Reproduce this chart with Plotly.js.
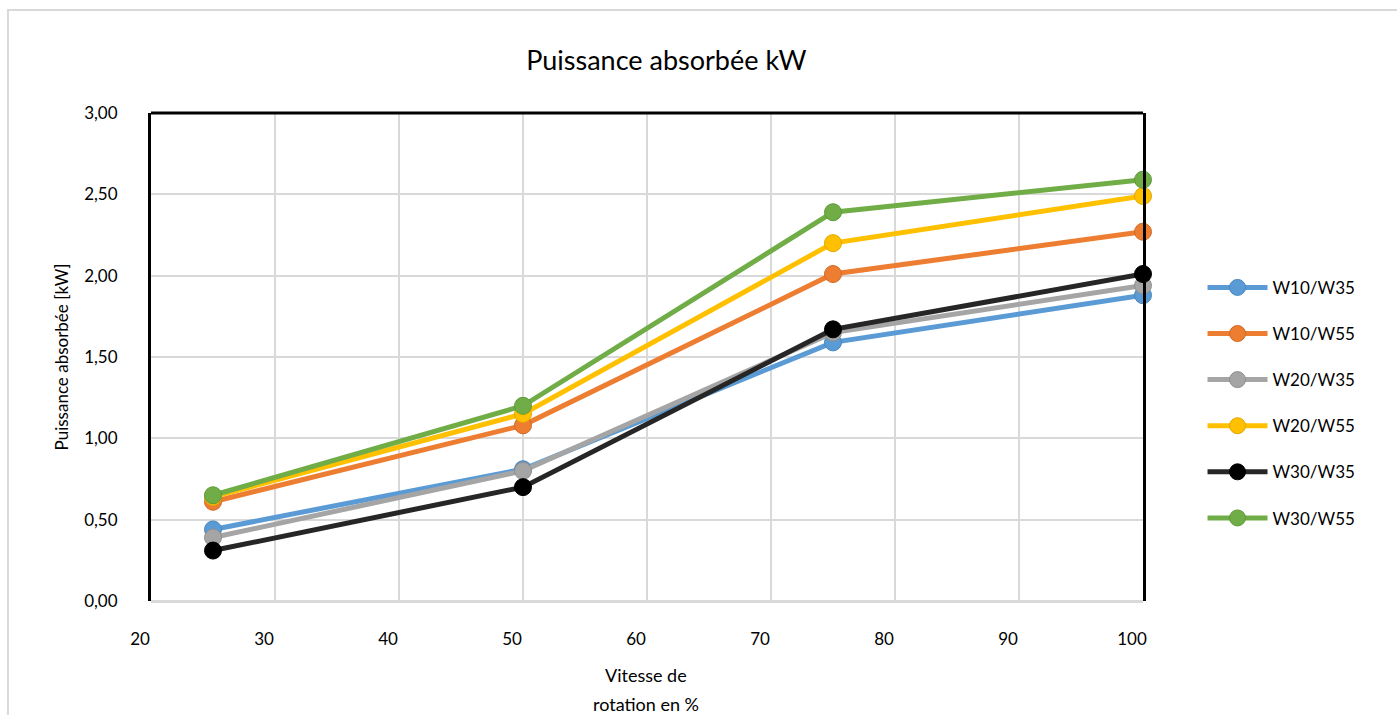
<!DOCTYPE html>
<html>
<head>
<meta charset="utf-8">
<script src="https://cdn.plot.ly/plotly-3.0.1.min.js"></script>
<style>
  html, body { margin: 0; padding: 0; background: #ffffff; }
  #chart { width: 1397px; height: 715px; }
</style>
</head>
<body>
<div id="chart"></div>
<script>
// Vitesse de rotation (%)
const vitesse = [25, 50, 75, 100];

// Puissance absorbée (kW) par régime
const seriesNames = ["W10/W35", "W10/W55", "W20/W35", "W20/W55", "W30/W35", "W30/W55"];
const w10w35 = [0.44, 0.81, 1.59, 1.88];
const w10w55 = [0.61, 1.08, 2.01, 2.27];
const w20w35 = [0.39, 0.80, 1.65, 1.94];
const w20w55 = [0.64, 1.15, 2.20, 2.49];
const w30w35 = [0.31, 0.70, 1.67, 2.01];
const w30w55 = [0.65, 1.20, 2.39, 2.59];

// Libellés du titre de l'axe horizontal
const xTitleLines = ["Vitesse de", "rotation en %"];

const seriesValues = [w10w35, w10w55, w20w35, w20w55, w30w35, w30w55];
const lineColors   = ["#5B9BD5", "#ED7D31", "#A5A5A5", "#FFC000", "#262626", "#70AD47"];
const markerColors = ["#5B9BD5", "#ED7D31", "#A5A5A5", "#FFC000", "#000000", "#70AD47"];
const markerEdges  = ["#4a86bd", "#d06a25", "#8f8f8f", "#e0a800", "#000000", "#5e9a3a"];

const FONT = "Lato, 'Open Sans', sans-serif";

const traces = seriesNames.map((name, i) => ({
  type: "scatter",
  mode: "lines+markers",
  name: name,
  legendgroup: "g" + i,
  x: vitesse,
  y: seriesValues[i],
  line: { color: lineColors[i], width: 5 },
  marker: { color: markerColors[i], size: 17, line: { color: markerEdges[i], width: 1 } },
  cliponaxis: false
}));

const layout = {
  width: 1397,
  height: 715,
  paper_bgcolor: "#ffffff",
  plot_bgcolor: "#ffffff",
  separators: ", ",
  margin: { l: 151, r: 254, t: 113, b: 114 },
  font: { family: FONT, size: 17, color: "#000000" },
  title: {
    text: "Puissance absorbée kW",
    font: { family: FONT, size: 27, color: "#000000" },
    x: 0.477, xanchor: "center",
    y: 0.915, yanchor: "middle"
  },
  xaxis: {
    range: [20, 100],
    dtick: 10,
    tick0: 20,
    showgrid: true,
    gridcolor: "#d9d9d9",
    gridwidth: 2,
    zeroline: false,
    showline: false,
    ticks: "",
    ticklen: 0,
    ticklabelshift: -11,
    ticklabelstandoff: 26,
    tickfont: { family: FONT, size: 17, color: "#000000" },
    fixedrange: true
  },
  yaxis: {
    range: [0, 3],
    dtick: 0.5,
    tickformat: ".2f",
    showgrid: true,
    gridcolor: "#d9d9d9",
    gridwidth: 2,
    zeroline: true,
    zerolinecolor: "#d9d9d9",
    zerolinewidth: 3,
    showline: true,
    linecolor: "#000000",
    linewidth: 3,
    mirror: true,
    ticks: "",
    ticklabelstandoff: 27,
    tickfont: { family: FONT, size: 17, color: "#000000" },
    title: {
      text: "Puissance absorbée [kW]",
      font: { family: FONT, size: 17, color: "#000000" },
      standoff: 12
    },
    fixedrange: true
  },
  legend: {
    x: 1.06, xanchor: "left",
    y: 0.406, yanchor: "middle",
    font: { family: FONT, size: 17, color: "#000000" },
    itemwidth: 60,
    tracegroupgap: 21,
    bgcolor: "rgba(0,0,0,0)"
  },
  annotations: xTitleLines.map((t, i) => ({
    text: t,
    xref: "paper", yref: "paper",
    x: 0.499, xanchor: "center",
    y: (601 - 675 - i * 29) / 488, yanchor: "middle",
    showarrow: false,
    font: { family: FONT, size: 18, color: "#000000" }
  })),
  shapes: [
    // cadre extérieur du graphique
    { type: "rect", xref: "paper", yref: "paper",
      x0: -0.1442, x1: 1.40, y0: -0.40, y1: 1.2111,
      line: { color: "#d9d9d9", width: 2 }, fillcolor: "rgba(0,0,0,0)", layer: "below" },
    // bord supérieur de la zone de tracé
    { type: "line", xref: "paper", yref: "paper",
      x0: 0, x1: 1, y0: 1, y1: 1,
      line: { color: "#000000", width: 3 } }
  ],
  showlegend: true
};

Plotly.newPlot("chart", traces, layout, { displayModeBar: false, staticPlot: true });
</script>
</body>
</html>
